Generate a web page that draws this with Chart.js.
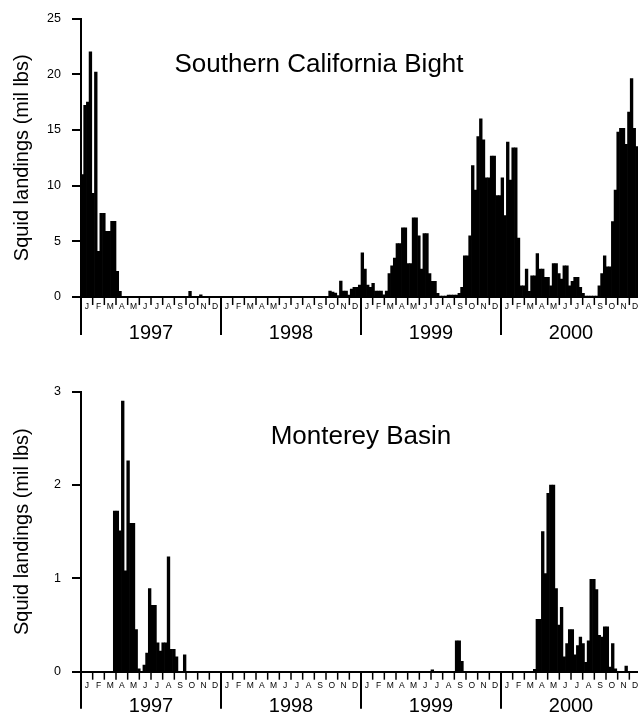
<!DOCTYPE html>
<html>
<head>
<meta charset="utf-8">
<script src="https://cdn.jsdelivr.net/npm/chart.js@4.4.0/dist/chart.umd.min.js"></script>
<style>
  html, body { margin:0; padding:0; background:#fff; width:638px; height:717px; overflow:hidden; }
  .panel { position:absolute; left:0; }
  #topPanel { top:0; }
  #botPanel { top:345px; }
</style>
</head>
<body>
<div class="panel" id="topPanel"><canvas id="scbChart" width="642" height="345"></canvas></div>
<div class="panel" id="botPanel"><canvas id="mbChart" width="642" height="372"></canvas></div>
<script>
/* weekly squid landings (mil lbs), 52 weeks per year */
const years = ["1997","1998","1999","2000"];
const monthLabels = ["J","F","M","A","M","J","J","A","S","O","N","D"];
const weeksPerYear = 52;

// Southern California Bight
const scb1997 = [11.0,17.2,17.5,22.0,9.3,20.2,4.1,7.5,7.5,5.9,
  5.9,6.8,6.8,2.3,0.5,0,0,0,0,0,
  0,0,0,0,0,0,0,0,0,0,
  0,0,0,0,0,0,0,0,0,0,
  0.5,0,0,0,0.2,0,0,0,0,0,
  0,0];
const scb1998 = [0,0,0,0,0,0,0,0,0,0,
  0,0,0,0,0,0,0,0,0,0,
  0,0,0,0,0,0,0,0,0,0,
  0,0,0,0,0,0,0,0,0,0,
  0.54,0.45,0.35,0.12,1.43,0.54,0.54,0.18,0.71,0.86,
  0.86,1.07];
const scb1999 = [3.96,2.5,1.07,0.86,1.22,0.54,0.54,0.54,0.2,0.54,
  2.1,2.8,3.5,4.8,4.8,6.2,6.2,3.0,3.0,7.1,
  7.1,5.5,2.5,5.7,5.7,2.1,1.4,1.4,0.33,0.05,
  0.05,0.05,0.18,0.18,0.18,0.18,0.33,0.87,3.7,3.7,
  5.5,11.8,9.6,14.4,16.0,14.1,10.7,10.7,12.65,12.65,
  9.1,9.1];
const scb2000 = [10.7,7.3,13.9,10.5,13.4,13.4,5.3,1.0,1.0,2.5,
  0.5,1.9,1.9,3.9,2.5,2.5,1.76,1.76,1.0,3.0,
  3.0,2.1,1.6,2.8,2.8,1.0,1.4,1.76,1.76,0.87,
  0.33,0.05,0.05,0.05,0.05,0.05,1.0,2.1,3.7,2.7,
  2.7,6.76,9.6,14.8,15.15,15.15,13.7,16.6,19.6,15.15,
  13.5,13.5];

// Monterey Basin
const mb1997 = [0,0,0,0,0,0,0,0,0,0,
  0,0,1.72,1.72,1.51,2.90,1.08,2.26,1.59,1.59,
  0.45,0.03,0,0.07,0.2,0.89,0.71,0.71,0.31,0.22,
  0.31,0.31,1.23,0.24,0.24,0.16,0,0,0.18,0,
  0,0,0,0,0,0,0,0,0,0,
  0,0];
const mb1998 = [0,0,0,0,0,0,0,0,0,0,
  0,0,0,0,0,0,0,0,0,0,
  0,0,0,0,0,0,0,0,0,0,
  0,0,0,0,0,0,0,0,0,0,
  0,0,0,0,0,0,0,0,0,0,
  0,0];
const mb1999 = [0,0,0,0,0,0,0,0,0,0,
  0,0,0,0,0,0,0,0,0,0,
  0,0,0,0,0,0,0.02,0,0,0,
  0,0,0,0,0,0.33,0.33,0.11,0,0,
  0,0,0,0,0,0,0,0,0,0,
  0,0];
const mb2000 = [0,0,0,0,0,0,0,0,0,0,
  0,0,0.025,0.56,0.56,1.50,1.05,1.91,2.0,2.0,
  0.89,0.50,0.69,0.16,0.30,0.45,0.45,0.18,0.28,0.37,
  0.30,0.10,0.33,0.99,0.99,0.88,0.39,0.37,0.48,0.48,
  0.05,0.30,0.03,0,0,0,0.06,0,0,0,
  0,0];

const scbTicks = [0,5,10,15,20,25];
const mbTicks = [0,1,2,3];

const FONT = "'Liberation Sans', Arial, Helvetica, sans-serif";

/* month ticks + labels, year separators + labels, region name */
const axisDecor = {
  id: "axisDecor",
  afterDraw(chart, args, opts) {
    const { ctx, scales: { x, y } } = chart;
    const base = y.getPixelForValue(0);
    ctx.save();
    ctx.strokeStyle = "#000";
    ctx.fillStyle = "#000";
    ctx.textAlign = "center";
    ctx.textBaseline = "middle";
    years.forEach((yr, yi) => {
      monthLabels.forEach((m, mi) => {
        const w0 = yi * weeksPerYear + mi * weeksPerYear / 12;
        const px = x.getPixelForValue(w0);
        ctx.lineWidth = mi === 0 ? 2 : 1.5;
        ctx.beginPath();
        ctx.moveTo(px, base);
        ctx.lineTo(px, base + (mi === 0 ? opts.yearTick : opts.monthTick));
        ctx.stroke();
        ctx.font = "8.5px " + FONT;
        const pc = x.getPixelForValue(w0 + weeksPerYear / 24);
        ctx.fillText(m, pc, base + opts.monthY);
      });
      ctx.font = "20px " + FONT;
      ctx.fillText(yr, x.getPixelForValue(yi * weeksPerYear + weeksPerYear / 2), base + opts.yearY);
    });
    ctx.font = "26px " + FONT;
    ctx.textBaseline = "alphabetic";
    ctx.fillText(opts.title, opts.titleX, opts.titleY);
    ctx.restore();
  }
};

function makePanel(canvasId, values, yMax, yTicks, decor, padTop, xAxisH) {
  const pts = values.map((v, i) => ({ x: i + 0.5, y: v }));
  return new Chart(document.getElementById(canvasId), {
    type: "bar",
    data: {
      datasets: [{
        data: pts,
        backgroundColor: "#000",
        borderWidth: 0,
        barPercentage: 1,
        categoryPercentage: 1
      }]
    },
    options: {
      responsive: false,
      animation: false,
      devicePixelRatio: 1,
      layout: { padding: { top: padTop, left: 0, right: 1, bottom: 0 } },
      plugins: {
        legend: { display: false },
        tooltip: { enabled: false },
        axisDecor: decor
      },
      scales: {
        x: {
          type: "linear",
          offset: false,
          min: 0,
          max: values.length,
          grid: { display: false, offset: false },
          ticks: { display: false },
          border: { display: true, color: "#000", width: 2 },
          afterFit: s => { s.height = xAxisH; }
        },
        y: {
          min: 0,
          max: yMax,
          afterBuildTicks: s => { s.ticks = yTicks.map(v => ({ value: v })); },
          grid: { drawOnChartArea: false, drawTicks: true, tickLength: 9, color: "#000", lineWidth: 2 },
          border: { display: true, color: "#000", width: 2 },
          ticks: { color: "#000", padding: 11, font: { family: FONT, size: 12.5 } },
          title: {
            display: true,
            text: "Squid landings (mil lbs)",
            color: "#000",
            font: { family: FONT, size: 20 },
            padding: { top: 10, bottom: 0 }
          },
          afterFit: s => { s.width = 81; }
        }
      }
    },
    plugins: [axisDecor]
  });
}

makePanel("scbChart", [...scb1997, ...scb1998, ...scb1999, ...scb2000], 25, scbTicks,
  { title: "Southern California Bight", titleX: 319, titleY: 71.5,
    monthTick: 8, yearTick: 38, monthY: 10, yearY: 36 },
  17, 48);

makePanel("mbChart", [...mb1997, ...mb1998, ...mb1999, ...mb2000], 3, mbTicks,
  { title: "Monterey Basin", titleX: 361, titleY: 99,
    monthTick: 8, yearTick: 37, monthY: 14, yearY: 35 },
  46.7, 45.3);
</script>
</body>
</html>
